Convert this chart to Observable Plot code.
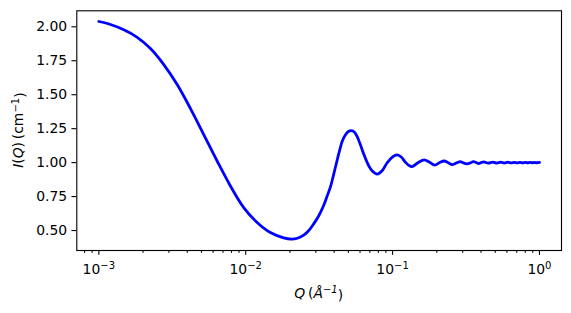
<!DOCTYPE html>
<html>
<head>
<meta charset="utf-8">
<script src="https://cdn.jsdelivr.net/npm/d3@7"></script>
<script src="https://cdn.jsdelivr.net/npm/@observablehq/plot@0.6"></script>
<style>
  html, body { margin: 0; padding: 0; background: #fff; }
  svg { font-family: "DejaVu Sans", sans-serif; }
</style>
</head>
<body>
<div id="chart"></div>
<script>
// Scattering vector Q (1/Å) and intensity I(Q) (1/cm)
const qValues = [
  0.001000, 0.001201, 0.001479, 0.001825, 0.002247, 0.002768, 0.003415, 0.004206,
  0.005180, 0.006390, 0.007871, 0.009692, 0.01196, 0.01472, 0.01813, 0.02046,
  0.02247, 0.02480, 0.02670, 0.02902, 0.03124, 0.03393, 0.03596, 0.03769,
  0.03968, 0.04186, 0.04373, 0.04548, 0.04767, 0.04996, 0.05236, 0.05488,
  0.05753, 0.06030, 0.06419, 0.06863, 0.07274, 0.07867, 0.08510, 0.09161,
  0.09954, 0.1076, 0.1146, 0.1220, 0.1289, 0.1361, 0.1495, 0.1642,
  0.1777, 0.1937, 0.2095, 0.2247, 0.2393, 0.2547, 0.2712, 0.2887,
  0.3027, 0.3197, 0.3377, 0.3540, 0.3710, 0.3859, 0.4013, 0.4173,
  0.449, 0.481, 0.513, 0.545, 0.577, 0.609, 0.641, 0.673,
  0.705, 0.737, 0.769, 0.801, 0.833, 0.865, 0.897, 0.929,
  0.961, 1.000
];
const iValues = [
  2.039, 2.017, 1.978, 1.923, 1.840, 1.722, 1.575, 1.398,
  1.207, 1.012, 0.828, 0.669, 0.559, 0.485, 0.446, 0.437,
  0.443, 0.466, 0.497, 0.549, 0.603, 0.684, 0.758, 0.819,
  0.912, 1.015, 1.096, 1.159, 1.203, 1.229, 1.236, 1.225,
  1.189, 1.133, 1.052, 0.979, 0.938, 0.916, 0.942, 0.997,
  1.041, 1.057, 1.041, 1.004, 0.980, 0.971, 1.001, 1.021,
  1.004, 0.982, 1.001, 1.012, 0.999, 0.986, 0.997, 1.008,
  0.999, 0.991, 0.997, 1.007, 1.001, 0.993, 1.001, 1.005,
  0.996, 1.004, 0.997, 1.003, 0.997, 1.003, 0.998, 1.002,
  0.998, 1.002, 0.998, 1.002, 0.999, 1.002, 0.999, 1.001,
  0.999, 1.001
];
const xMajorTicks = [1e-3, 1e-2, 1e-1, 1e0];
const yTicks = [0.50, 0.75, 1.00, 1.25, 1.50, 1.75, 2.00];

const data = qValues.map((q, k) => ({q, i: iValues[k]}));

const minorTicks = [];
for (let e = -4; e <= 0; e++) {
  for (let m = 2; m <= 9; m++) {
    const v = m * Math.pow(10, e);
    if (v > Math.pow(10, -3.15) && v < Math.pow(10, 0.15)) minorTicks.push(v);
  }
}

const W = 571, H = 313;
const mL = 76.3, mR = 10, mT = 10.3, mB = 63;
const fs = 13.9;
const lw = 1.11;

const chart = Plot.plot({
  width: W,
  height: H,
  marginLeft: mL,
  marginRight: mR,
  marginTop: mT,
  marginBottom: mB,
  style: {fontFamily: "DejaVu Sans", fontSize: fs + "px", color: "black", background: "white"},
  x: {type: "log", domain: [Math.pow(10, -3.15), Math.pow(10, 0.15)]},
  y: {domain: [0.3530, 2.1179]},
  marks: [
    Plot.line(data, {x: "q", y: "i", stroke: "#0000ff", strokeWidth: 2.78, curve: "catmull-rom"}),
    Plot.axisX({ticks: minorTicks, tickSize: 2.78, tickFormat: () => "", label: null, strokeWidth: lw}),
    Plot.axisX({ticks: xMajorTicks, tickSize: 4.86, tickPadding: 8.6, tickFormat: (d) => String(Math.round(Math.log10(d))), label: null, strokeWidth: lw, fontSize: fs}),
    Plot.axisY({ticks: yTicks, tickSize: 4.86, tickPadding: 4.86, tickFormat: d3.format(".2f"), label: null, strokeWidth: lw, fontSize: fs}),
    Plot.frame({stroke: "black", strokeWidth: lw})
  ]
});

document.getElementById("chart").appendChild(chart);
const svg = d3.select(chart);

// Replace major x tick labels with 10^n using superscripts
svg.selectAll('g[aria-label="x-axis tick label"] text').each(function() {
  const t = d3.select(this);
  const txt = t.text();
  if (!txt) return;
  t.text(null);
  const e = txt.replace("-", "\u2212");
  t.append("tspan").text("10");
  t.append("tspan").attr("dy", "-0.45em").attr("font-size", (fs * 0.72) + "px").text(e);
});

// Axis titles with italic parts and superscripts
const plotLeft = mL, plotRight = W - mR, plotTop = mT, plotBottom = H - mB;
const xl = svg.append("text")
  .attr("x", (plotLeft + plotRight) / 2)
  .attr("y", 298)
  .attr("text-anchor", "middle")
  .attr("font-size", fs + "px")
  .attr("fill", "black");
xl.append("tspan").attr("font-style", "italic").text("Q");
xl.append("tspan").text("\u2009(");
xl.append("tspan").attr("font-style", "italic").text("\u00C5");
xl.append("tspan").attr("dy", "-0.45em").attr("font-size", (fs * 0.72) + "px").attr("font-style", "italic").text("\u22121");
xl.append("tspan").attr("dy", "0.45em").text(")");

const cy = (plotTop + plotBottom) / 2;
const yl = svg.append("text")
  .attr("transform", `translate(23,${cy}) rotate(-90)`)
  .attr("text-anchor", "middle")
  .attr("font-size", fs + "px")
  .attr("fill", "black");
yl.append("tspan").attr("font-style", "italic").text("I");
yl.append("tspan").text("(");
yl.append("tspan").attr("font-style", "italic").text("Q");
yl.append("tspan").text(")\u2009(cm");
yl.append("tspan").attr("dy", "-0.45em").attr("font-size", (fs * 0.72) + "px").text("\u22121");
yl.append("tspan").attr("dy", "0.45em").text(")");
</script>
</body>
</html>
